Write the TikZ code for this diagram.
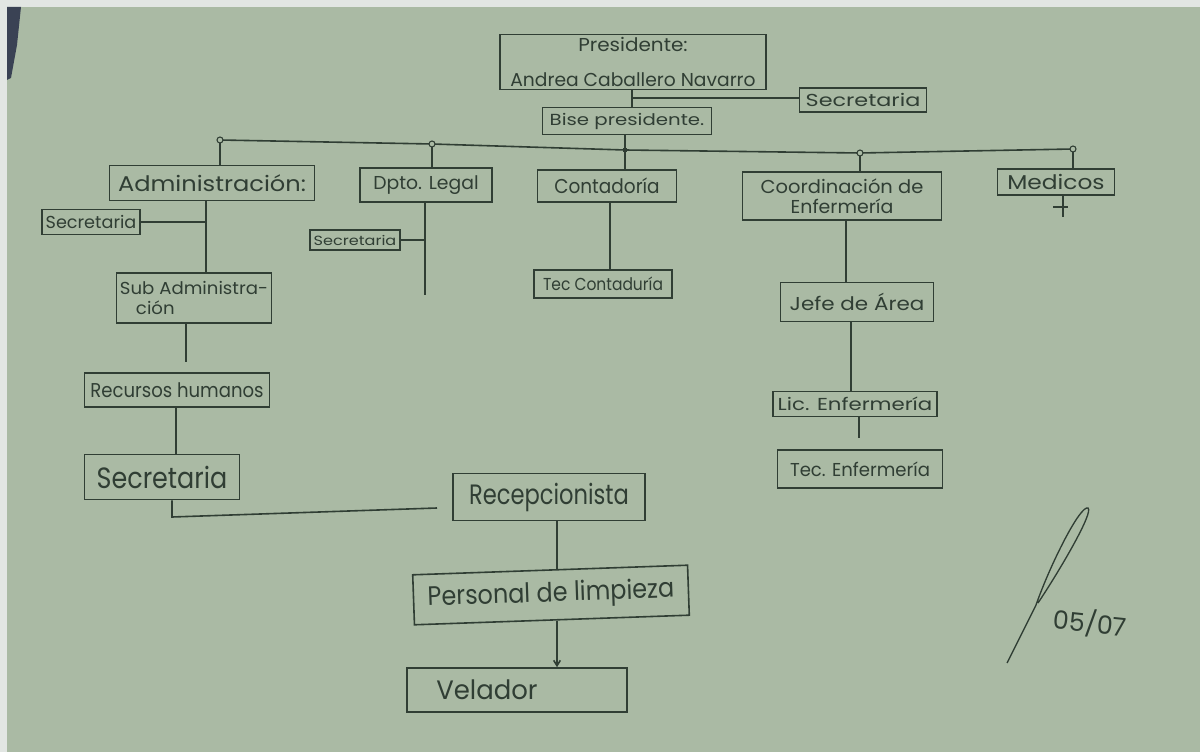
\documentclass[tikz,border=0pt]{standalone}
\usepackage{fontspec}
\setmainfont{Poppins}
\usetikzlibrary{arrows.meta,calc}
\definecolor{paper}{RGB}{170,186,164}
\definecolor{ink}{RGB}{48,62,52}
\definecolor{edgew}{RGB}{226,230,227}
\definecolor{edged}{RGB}{58,66,84}
\newcommand\hw[3]{\resizebox{#1}{\height}{\fontsize{#2}{#2}\selectfont #3}}
\begin{document}
\begin{tikzpicture}[x=0.75pt,y=-0.75pt,
  box/.style={draw=ink, line width=1.2pt, inner sep=0pt, text=ink, align=center},
  sz/.style 2 args={minimum width=#1*0.75pt, minimum height=#2*0.75pt},
  link/.style={draw=ink, line width=1.2pt},
  dot/.style={circle, draw=ink, fill=paper, line width=0.8pt, inner sep=0pt, minimum size=4.5pt},
  sq/.style={rectangle, fill=ink, inner sep=0pt, minimum size=3.5pt}]
\useasboundingbox (0,0) rectangle (1200,752);
\fill[paper] (0,0) rectangle (1200,752);
\fill[edgew] (0,0) rectangle (1200,7);
\fill[edgew] (0,0) rectangle (7,752);
\fill[edged] (7,7) -- (21,7) -- (17,45) -- (11,78) -- (7,80) -- cycle;

% nodes
\node[box, sz={266}{55}, font=\fontsize{14}{26}\selectfont] (pres) at (633,62) {\hw{82pt}{14pt}{Presidente:}\\\hw{184pt}{14pt}{Andrea Caballero Navarro}};
\node[box, sz={127}{24}] (sec0) at (863,100) {\hw{86pt}{13pt}{Secretaria}};
\node[box, sz={169}{27}] (bise) at (627,121) {\hw{116pt}{12pt}{Bise presidente.}};
\node[box, sz={205}{35}] (admin) at (212,183) {\hw{141pt}{16pt}{Administración:}};
\node[box, sz={132}{34}] (legal) at (426,185) {\hw{79pt}{14pt}{Dpto. Legal}};
\node[box, sz={139}{32}] (conta) at (607,186) {\hw{79pt}{15pt}{Contadoría}};
\node[box, sz={199}{48}, font=\fontsize{14}{15}\selectfont] (coord) at (842,196) {\hw{122pt}{14pt}{Coordinación de}\\\hw{77pt}{14pt}{Enfermería}};
\node[box, sz={117}{26}] (med) at (1056,182) {\hw{73pt}{15pt}{Medicos}};
\node[box, sz={98}{25}] (secA) at (91,222) {\hw{68pt}{13pt}{Secretaria}};
\node[box, sz={90}{20}] (secL) at (355,240) {\hw{62pt}{10pt}{Secretaria}};
\node[box, sz={155}{50}, align=left, font=\fontsize{13}{15}\selectfont] (subadm) at (194,298) {\hw{111pt}{13pt}{Sub Administra-}\\\hspace*{12pt}\hw{29pt}{13pt}{ción}};
\node[box, sz={185}{34}] (recur) at (177,390) {\hw{130pt}{15pt}{Recursos humanos}};
\node[box, sz={155}{45}] (secB) at (162,477) {\hw{98pt}{22pt}{Secretaria}};
\node[box, sz={192}{47}] (recep) at (549,497) {\hw{120pt}{21pt}{Recepcionista}};
\node[box, sz={275}{50}, rotate=2] (perso) at (551,595) {\hw{185pt}{20pt}{Personal de limpieza}};
\node[box, sz={220}{44}] (velad) at (517,690) {\hw{76pt}{20pt}{Velador}\kern45pt};
\node[box, sz={138}{28}] (tecC) at (603,284) {\hw{90pt}{13pt}{Tec Contaduría}};
\node[box, sz={153}{39}] (jefe) at (857,302) {\hw{101pt}{14pt}{Jefe de Área}};
\node[box, sz={164}{25}] (lic) at (855,404) {\hw{116pt}{13pt}{Lic. Enfermería}};
\node[box, sz={165}{38}] (tecE) at (860,469) {\hw{105pt}{14pt}{Tec. Enfermería}};

% president connectors
\coordinate (pb) at (632,98);
\draw[link] (pres.south -| pb) -- (bise.north -| pb);
\draw[link] (pb) -- (sec0.west |- pb);

% bus
\coordinate (jA) at (220,140);
\coordinate (jL) at (432,144);
\coordinate (jC) at (625,150);
\coordinate (jE) at (860,153);
\coordinate (jM) at (1073,149);
\draw[link] (jA) -- (jL) -- (jC) -- (jE) -- (jM);
\draw[link] (bise.south -| jC) -- (jC);
\draw[link] (jA) -- (jA |- admin.north);
\draw[link] (jL) -- (jL |- legal.north);
\draw[link] (jC) -- (jC |- conta.north);
\draw[link] (jE) -- (jE |- coord.north);
\draw[link] (jM) -- (jM |- med.north);
\node[dot] (dA) at (jA) {};
\node[dot] (dL) at (jL) {};
\node[sq] (dC) at (jC) {};
\node[dot] (dE) at (jE) {};
\node[dot] (dM) at (jM) {};

% administracion branch
\coordinate (ax) at (206,222);
\draw[link] (admin.south -| ax) -- (ax |- subadm.north);
\draw[link] (secA.east) -- (secA.east -| ax);
\coordinate (sE) at (186,362);
\draw[link] (subadm.south -| sE) -- (sE);
\coordinate (rx) at (176,0);
\draw[link] (recur.south -| rx) -- (secB.north -| rx);
\coordinate (bk) at (172,517);
\coordinate (rE) at (437,508);
\draw[link] (secB.south -| bk) -- (bk) -- (rE);
\coordinate (px) at (557,0);
\draw[link] (recep.south -| px) -- (perso.north -| px);
\draw[link, -{Straight Barb[length=4pt,width=5pt]}] (perso.south -| px) -- (velad.north -| px);

% legal branch
\coordinate (lE) at (425,295);
\draw[link] (legal.south -| lE) -- (lE);
\draw[link] (secL.east) -- (secL.east -| lE);

% contadoria
\coordinate (cx) at (610,0);
\draw[link] (conta.south -| cx) -- (tecC.north -| cx);

% enfermeria
\coordinate (ex) at (846,0);
\draw[link] (coord.south -| ex) -- (jefe.north -| ex);
\coordinate (jx) at (851,0);
\draw[link] (jefe.south -| jx) -- (lic.north -| jx);
\coordinate (lE2) at (859,438);
\draw[link] (lic.south -| lE2) -- (lE2);

% medicos
\coordinate (mE) at (1063,217);
\draw[link] (med.south -| mE) -- (mE);
\draw[link] ($(mE)+(-10,-10)$) -- ($(mE)+(5,-10)$);

% signature and date
\draw[ink, line width=1pt] (1007,663) -- (1036,605) .. controls (1050,565) and (1080,505) .. (1088,508) .. controls (1094,512) and (1060,570) .. (1038,603);
\node[text=ink, rotate=-6, inner sep=0pt, font=\fontsize{19pt}{19pt}\selectfont] (date) at (1090,623) {05/07};
\end{tikzpicture}
\end{document}
